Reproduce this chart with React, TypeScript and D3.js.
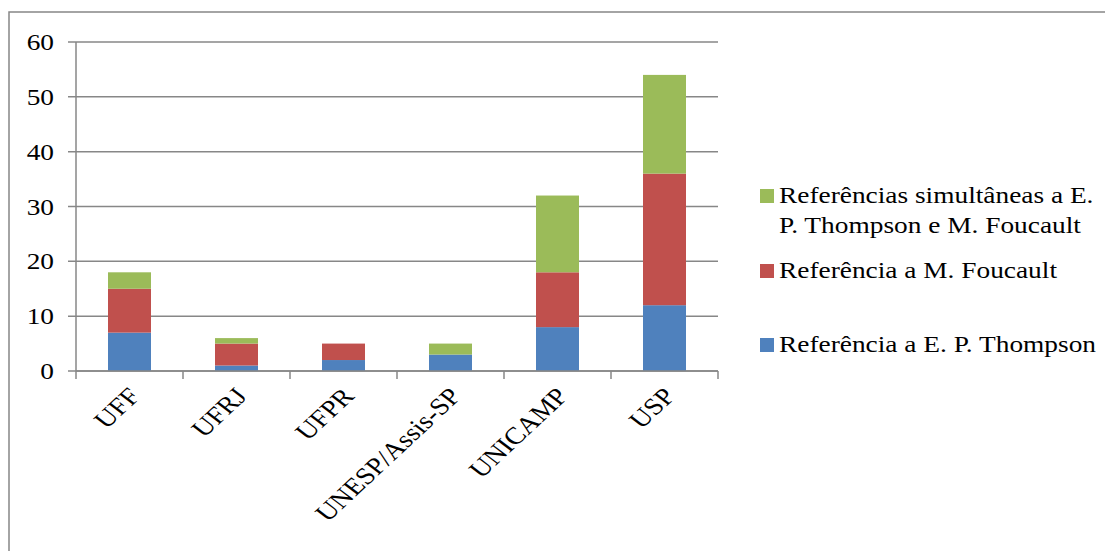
import React from "react";
import * as d3 from "d3";

const categories = ["UFF", "UFRJ", "UFPR", "UNESP/Assis-SP", "UNICAMP", "USP"];
const thompson = [7, 1, 2, 3, 8, 12];
const foucault = [8, 4, 3, 0, 10, 24];
const simultaneas = [3, 1, 0, 2, 14, 18];
const yTicks = [0, 10, 20, 30, 40, 50, 60];
const seriesNames = [
  "Referência a E. P. Thompson",
  "Referência a M. Foucault",
  "Referências simultâneas a E. P. Thompson e M. Foucault",
];
const colors = ["#4F81BD", "#C0504D", "#9BBB59"];

export default function App() {
  const W = 1105, H = 551;
  const x0 = 76, x1 = 718, yTop = 42, yBot = 371;
  const x = d3.scaleBand().domain(categories).range([x0, x1]).paddingInner(0).paddingOuter(0);
  const y = d3.scaleLinear().domain([0, 60]).range([yBot, yTop]);
  const rows = categories.map((c, i) => ({ cat: c, a: thompson[i], b: foucault[i], c: simultaneas[i] }));
  const stack = d3.stack<any>().keys(["a", "b", "c"])(rows);
  const barW = 43;
  const font = "'Times New Roman', 'Liberation Serif', Tinos, serif";
  const grid = "#878787";
  const fs = 23;
  const sx = 1.19;

  const legendItems = [
    { color: colors[2], lines: ["Referências simultâneas a E.", "P. Thompson e M. Foucault"], y: 203 },
    { color: colors[1], lines: ["Referência a M. Foucault"], y: 278 },
    { color: colors[0], lines: ["Referência a E. P. Thompson"], y: 352 },
  ];

  return (
    <svg width={W} height={H} style={{ position: "absolute", left: 0, top: 0, background: "#fff", fontFamily: font }}>
      <rect x={9} y={12} width={1200} height={700} fill="#fff" stroke={grid} strokeWidth={1.5} />
      {yTicks.map((t) => (
        <g key={t}>
          <line x1={68} x2={x1} y1={y(t)} y2={y(t)} stroke={grid} strokeWidth={1.5} />
          <text transform={`translate(54,${y(t) + 8}) scale(${sx},1)`} textAnchor="end" fontSize={fs} fill="#000">{t}</text>
        </g>
      ))}
      <line x1={x0} x2={x0} y1={yTop} y2={yBot} stroke={grid} strokeWidth={1.5} />
      {stack.map((s, si) =>
        s.map((d, i) => {
          const h = y(d[0]) - y(d[1]);
          if (h <= 0) return null;
          const cx = (x(categories[i]) as number) + x.bandwidth() / 2;
          return (
            <rect key={si + "-" + i} x={cx - barW / 2} y={y(d[1])} width={barW} height={h}
              fill={colors[si]} />
          );
        })
      )}
      <line x1={x0} x2={x1} y1={yBot} y2={yBot} stroke={grid} strokeWidth={1.5} />
      {d3.range(categories.length + 1).map((i) => {
        const xx = x0 + i * x.bandwidth();
        return <line key={i} x1={xx} x2={xx} y1={yBot} y2={yBot + 8} stroke={grid} strokeWidth={1.5} />;
      })}
      {categories.map((c) => {
        const cx = (x(c) as number) + x.bandwidth() / 2;
        return (
          <text key={c} transform={`translate(${cx + 12},${yBot + 26}) scale(${sx},1) rotate(-48)`} textAnchor="end"
            fontSize={24} fill="#000">{c}</text>
        );
      })}
      {legendItems.map((it, i) => (
        <g key={i}>
          <rect x={760} y={it.y - 14} width={14} height={14} fill={it.color} />
          {it.lines.map((l, j) => (
            <text key={j} transform={`translate(779,${it.y + j * 30}) scale(${sx},1)`} fontSize={fs} fill="#000">{l}</text>
          ))}
        </g>
      ))}
    </svg>
  );
}
